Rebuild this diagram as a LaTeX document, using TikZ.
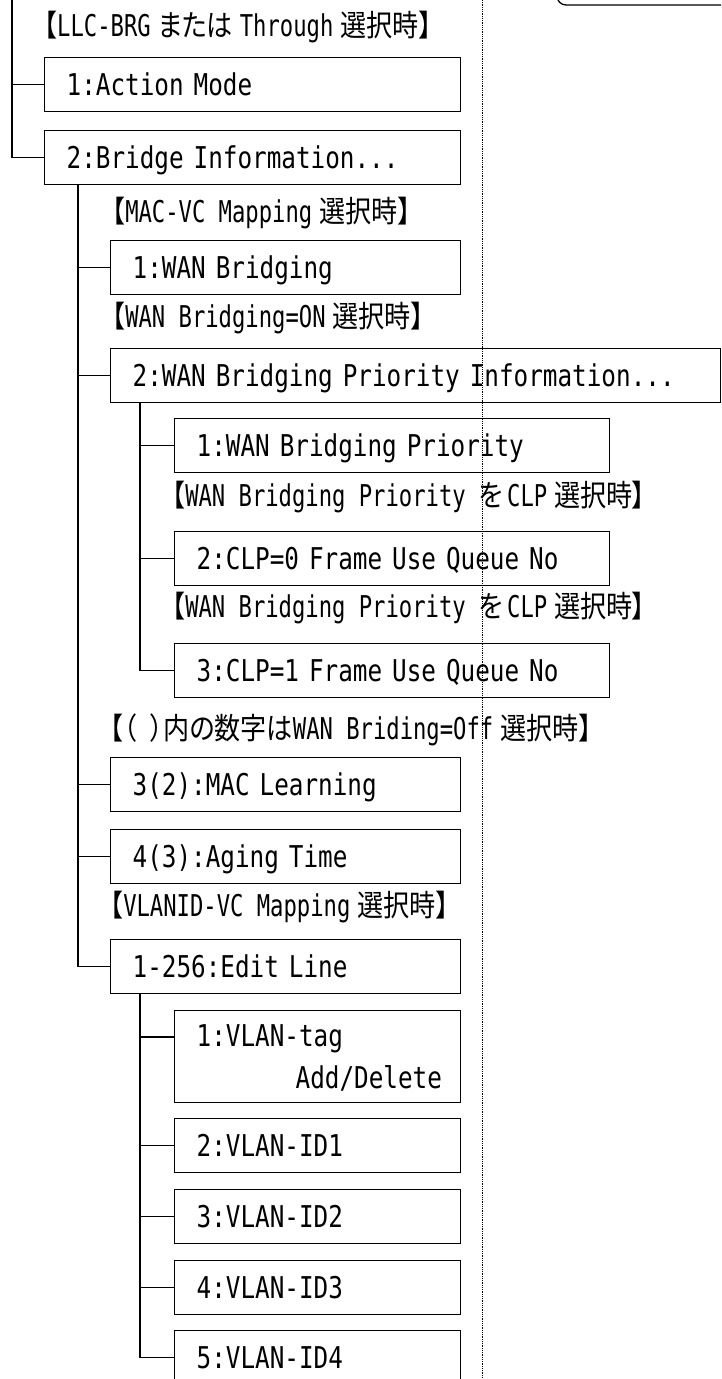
\documentclass[tikz,border=0pt]{standalone}
\usepackage{fontspec}
\usepackage{tikz}
\usetikzlibrary{positioning,calc}
\newfontfamily\menufont[FakeStretch=0.81]{DejaVu Sans Mono}
\newfontfamily\notefont[FakeStretch=0.74]{DejaVu Sans Mono}
\newfontfamily\jpfont[FakeStretch=0.87,RawFeature=+palt]{Noto Sans CJK JP}
\newcommand{\jp}[1]{{\jpfont #1}}
\newcommand{\js}{\hspace{7pt}}
\tikzset{
  menu/.style={draw, line width=1.3pt, anchor=north west, align=left,
               inner xsep=22pt, inner ysep=16pt, minimum height=54pt,
               text height=22pt, text depth=0pt,
               font={\fontsize{30}{42}\menufont\fontdimen2\font=14.6pt\relax}},
  note/.style={anchor=west, inner sep=0pt,
               font={\fontsize{30}{36}\notefont\fontdimen2\font=13.3pt\relax}},
  tree/.style={line width=1.3pt},
  frame/.style={line width=1.3pt},
  sep/.style={densely dotted, line width=0.8pt}
}

\begin{document}
\begin{tikzpicture}[x=1pt,y=1pt]
        \useasboundingbox (0,0) rectangle (721,-1379);
        \clip (0,0) rectangle (721,-1379);
        \draw[sep] (482,0) -- (482,-1379);
        \draw[frame, rounded corners=9pt] (557,20) |- (740,-5);
        % top level
        \node[note] (llc) at (44,-27) {\jp{【}LLC-BRG\js\jp{または}\js Through\js\jp{選択時】}};
        \node[menu, text width=372pt] (act) at (44,-57) {1:Action Mode};
        \node[menu, text width=372pt] (bri) at (44,-130) {2:Bridge Information...};
        % bridge information
        \node[note] (macvc) at (112,-213) {\jp{【}MAC-VC Mapping\js\jp{選択時】}};
        \node[menu, text width=306pt] (wan) at (110,-240) {1:WAN Bridging};
        \node[note] (on) at (112,-318) {\jp{【}WAN Bridging=ON\js\jp{選択時】}};
        \node[menu, text width=566pt] (bpi) at (110,-348) {2:WAN Bridging Priority Information...};
        \node[menu, text width=391pt] (wbp) at (174,-418) {1:WAN Bridging Priority};
        \node[note] (clpa) at (172,-497) {\jp{【}WAN Bridging Priority \jp{を}\hspace{4pt}CLP\js\jp{選択時】}};
        \node[menu, text width=391pt] (clp0) at (174,-531) {2:CLP=0 Frame Use Queue No};
        \node[note] (clpb) at (172,-608) {\jp{【}WAN Bridging Priority \jp{を}\hspace{4pt}CLP\js\jp{選択時】}};
        \node[menu, text width=391pt] (clp1) at (174,-643) {3:CLP=1 Frame Use Queue No};
        \node[note] (off) at (110,-730) {\jp{【（\hspace{14pt}）内の数字は}WAN Briding=Off\js\jp{選択時】}};
        \node[menu, text width=306pt] (mac) at (110,-757) {3(2):MAC Learning};
        \node[menu, text width=306pt] (age) at (110,-829) {4(3):Aging Time};
        \node[note] (vlanid) at (110,-907) {\jp{【}VLANID-VC Mapping\js\jp{選択時】}};
        \node[menu, text width=306pt] (edit) at (110,-939) {1-256:Edit Line};
        % edit line
        \node[menu, text width=242pt, inner ysep=0pt, minimum height=92pt,
              text height=36pt, text depth=56pt] (tag) at (174,-1010)
              {1:VLAN-tag\\\hspace*{99pt}Add/Delete};
        \node[menu, text width=242pt] (id1) at (174,-1118) {2:VLAN-ID1};
        \node[menu, text width=242pt] (id2) at (174,-1189) {3:VLAN-ID2};
        \node[menu, text width=242pt] (id3) at (174,-1260) {4:VLAN-ID3};
        \node[menu, text width=242pt] (id4) at (174,-1330) {5:VLAN-ID4};
        % tree lines
        \coordinate (r0) at (12,0);
        \draw[tree] (r0) |- (act.west);
        \draw[tree] (r0) |- (bri.west);
        \coordinate (r1) at ($(bri.south west)+(34,0)$);
        \foreach \n in {wan,bpi,mac,age,edit}
          \draw[tree] (r1) |- (\n.west);
        \coordinate (r2) at ($(bpi.south west)+(30,0)$);
        \foreach \n in {wbp,clp0,clp1}
          \draw[tree] (r2) |- (\n.west);
        \coordinate (r3) at ($(edit.south west)+(30,0)$);
        \draw[tree] (r3) |- ($(tag.north west)+(0,-27)$);
        \foreach \n in {id1,id2,id3,id4}
          \draw[tree] (r3) |- (\n.west);
\end{tikzpicture}
\end{document}
